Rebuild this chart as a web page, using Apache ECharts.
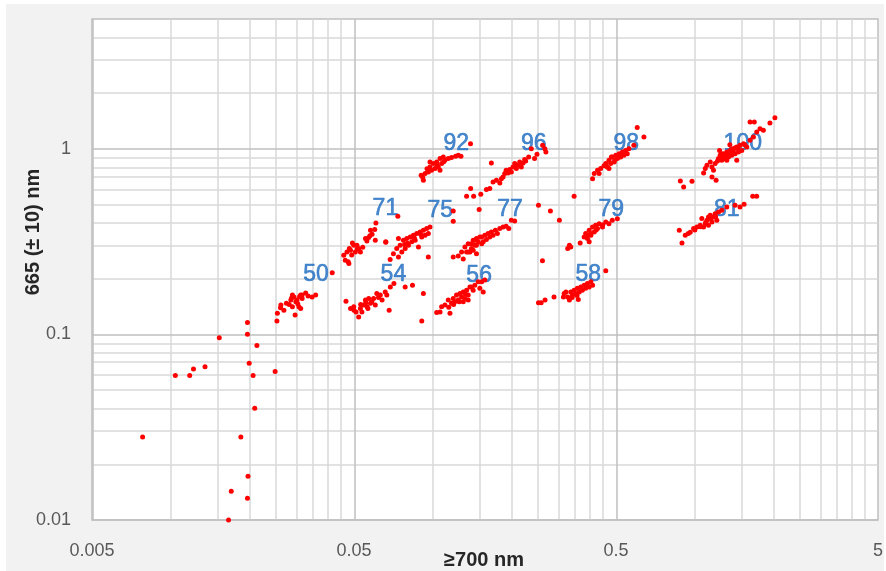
<!DOCTYPE html>
<html><head><meta charset="utf-8">
<script src="https://cdn.jsdelivr.net/npm/echarts@6/dist/echarts.min.js"></script>
<style>
html,body{margin:0;padding:0;background:#fff;}
#bg{position:absolute;left:6px;top:4px;width:878px;height:567px;background:#F2F2F2;}
#chart{position:absolute;left:0;top:0;width:886px;height:571px;}
</style></head><body>
<div id="bg"></div><div id="chart"></div>
<script>
// ---- axis ranges & ticks ----
const X_MIN = 0.005, X_MAX = 5, Y_MIN = 0.01, Y_MAX = 5;
const xTickLabels = [0.005, 0.05, 0.5, 5];
const yTickLabels = [0.01, 0.1, 1];
const xGridMajor = [0.005, 0.05, 0.5, 5];
const xGridMinor = [0.01,0.015,0.02,0.025,0.03,0.035,0.04,0.045,0.1,0.15,0.2,0.25,0.3,0.35,0.4,0.45,1,1.5,2,2.5,3,3.5,4,4.5];
const yGridMajor = [0.01, 0.1, 1];
const yGridMinor = [0.02,0.03,0.04,0.05,0.06,0.07,0.08,0.09,0.2,0.3,0.4,0.5,0.6,0.7,0.8,0.9,2,3,4,5];
const xTitle = '≥700 nm';
const yTitle = '665 (± 10) nm';

// ---- data: [≥700 nm, 665 nm] ----
const sparse = [[0.0078,0.028],[0.0104,0.060],[0.0118,0.060],[0.0122,0.065],[0.0135,0.067],[0.0153,0.096],[0.0196,0.116],[0.0196,0.100],[0.0213,0.087],[0.0199,0.070],[0.0206,0.060],[0.025,0.063],[0.0209,0.040],[0.0185,0.028],[0.0197,0.0172],[0.0170,0.0143],[0.0196,0.0131],[0.0166,0.0100]];
const g50 = [[0.0254,0.118],[0.0255,0.130],[0.0263,0.144],[0.0270,0.135],[0.0276,0.147],[0.0287,0.153],[0.0291,0.141],[0.0291,0.163],[0.0295,0.159],[0.0300,0.150],[0.0298,0.127],[0.0303,0.153],[0.0308,0.141],[0.0313,0.138],[0.0313,0.163],[0.0317,0.156],[0.0317,0.163],[0.0327,0.167],[0.0334,0.161],[0.0346,0.159],[0.0357,0.163],[0.0413,0.215],[0.0283,0.145],[0.0305,0.146],[0.0289,0.157],[0.0310,0.160],[0.0262,0.139]];
const g71 = [[0.0457,0.267],[0.0470,0.278],[0.0475,0.246],[0.0485,0.284],[0.0499,0.302],[0.0506,0.278],[0.0521,0.290],[0.0529,0.278],[0.0493,0.311],[0.0553,0.328],[0.0569,0.333],[0.0586,0.346],[0.0600,0.367],[0.0603,0.321],[0.0606,0.398],[0.0661,0.314],[0.0463,0.251],[0.0478,0.241],[0.0513,0.302],[0.0578,0.364],[0.0735,0.433],[0.0490,0.268],[0.0515,0.288],[0.0540,0.295],[0.0560,0.318],[0.0575,0.340],[0.0480,0.290]];
const g54 = [[0.0466,0.151],[0.0485,0.138],[0.0499,0.141],[0.0509,0.132],[0.0521,0.124],[0.0529,0.138],[0.0544,0.144],[0.0553,0.153],[0.0561,0.141],[0.0569,0.156],[0.0578,0.147],[0.0594,0.156],[0.0603,0.144],[0.0611,0.166],[0.0630,0.163],[0.0640,0.153],[0.0658,0.169],[0.0667,0.163],[0.0681,0.135],[0.0688,0.180],[0.0710,0.188],[0.0784,0.180],[0.0836,0.184],[0.0536,0.132],[0.0565,0.138],[0.0907,0.118],[0.0920,0.166],[0.0530,0.145],[0.0555,0.148],[0.0585,0.150],[0.0620,0.158],[0.0500,0.135]];
const g75 = [[0.0687,0.253],[0.0707,0.272],[0.0728,0.290],[0.0750,0.302],[0.0772,0.321],[0.0761,0.278],[0.0795,0.328],[0.0807,0.302],[0.0819,0.335],[0.0831,0.315],[0.0843,0.342],[0.0856,0.321],[0.0868,0.349],[0.0881,0.296],[0.0894,0.356],[0.0907,0.335],[0.0920,0.364],[0.0934,0.342],[0.0947,0.372],[0.0961,0.349],[0.0975,0.379],[0.0961,0.261],[0.0784,0.290],[0.0739,0.261],[0.0661,0.315],[0.0739,0.328],[0.1196,0.462],[0.1196,0.407],[0.0800,0.310],[0.0850,0.330],[0.0900,0.345],[0.0780,0.305]];
const g92 = [[0.0902,0.719],[0.0920,0.676],[0.0934,0.735],[0.0961,0.749],[0.0975,0.798],[0.0989,0.765],[0.1004,0.832],[0.1019,0.782],[0.1034,0.848],[0.1049,0.798],[0.1065,0.885],[0.1080,0.832],[0.1096,0.903],[0.1112,0.866],[0.1145,0.885],[0.1178,0.896],[0.1221,0.910],[0.1250,0.922],[0.1280,0.910],[0.1392,1.065],[0.0975,0.848],[0.1065,0.765],[0.0950,0.780],[0.1040,0.815],[0.1100,0.850],[0.0915,0.700]];
const g56 = [[0.1034,0.131],[0.1065,0.132],[0.1080,0.141],[0.1112,0.144],[0.1145,0.153],[0.1162,0.130],[0.1178,0.147],[0.1196,0.156],[0.1213,0.150],[0.1231,0.163],[0.1250,0.153],[0.1269,0.166],[0.1287,0.159],[0.1306,0.169],[0.1325,0.156],[0.1345,0.173],[0.1364,0.163],[0.1385,0.180],[0.1425,0.173],[0.1446,0.184],[0.1489,0.192],[0.1404,0.180],[0.1536,0.192],[0.1579,0.196],[0.1557,0.169],[0.1511,0.177],[0.1306,0.150],[0.1364,0.153],[0.1200,0.145],[0.1260,0.150],[0.1150,0.140],[0.1330,0.165]];
const g77 = [[0.1196,0.261],[0.1250,0.264],[0.1287,0.278],[0.1325,0.296],[0.1345,0.278],[0.1364,0.308],[0.1404,0.290],[0.1425,0.321],[0.1446,0.302],[0.1467,0.328],[0.1489,0.315],[0.1511,0.335],[0.1536,0.308],[0.1579,0.342],[0.1306,0.255],[0.1364,0.278],[0.1404,0.308],[0.1425,0.284],[0.1446,0.321],[0.1467,0.302],[0.1536,0.335],[0.1557,0.315],[0.1601,0.324],[0.1625,0.349],[0.1649,0.335],[0.1672,0.356],[0.1697,0.342],[0.1732,0.364],[0.1763,0.349],[0.1801,0.372],[0.1853,0.379],[0.1904,0.382],[0.1948,0.372],[0.1993,0.412],[0.2053,0.408],[0.1385,0.278],[0.1467,0.272]];
const g96 = [[0.1345,0.555],[0.1431,0.555],[0.1394,0.610],[0.1502,0.470],[0.1524,0.568],[0.1601,0.603],[0.1672,0.838],[0.1649,0.610],[0.1697,0.662],[0.1748,0.676],[0.1801,0.654],[0.1826,0.690],[0.1853,0.705],[0.1881,0.735],[0.1904,0.765],[0.1936,0.740],[0.1965,0.772],[0.1993,0.749],[0.2022,0.798],[0.2053,0.832],[0.2083,0.782],[0.2113,0.815],[0.2145,0.848],[0.2176,0.798],[0.2209,0.838],[0.2241,0.874],[0.2321,0.903],[0.2375,1.00],[0.2444,0.885],[0.2497,0.933],[0.2624,1.043],[0.2676,1.00],[0.2700,0.959],[0.1950,0.750],[0.2050,0.800],[0.2150,0.820],[0.2260,0.860]];
const stray = [[0.253,0.496],[0.281,0.462],[0.304,0.412],[0.262,0.249],[0.253,0.148],[0.259,0.148],[0.268,0.153],[0.290,0.159],[0.315,0.159],[0.346,0.555]];
const g58 = [[0.317,0.166],[0.327,0.159],[0.332,0.153],[0.336,0.169],[0.341,0.163],[0.346,0.173],[0.351,0.166],[0.356,0.177],[0.362,0.169],[0.359,0.154],[0.367,0.180],[0.372,0.173],[0.378,0.184],[0.383,0.177],[0.389,0.188],[0.395,0.180],[0.401,0.192],[0.407,0.184],[0.457,0.220],[0.322,0.169],[0.340,0.158],[0.365,0.175],[0.385,0.182],[0.355,0.162]];
const g79 = [[0.327,0.290],[0.332,0.302],[0.336,0.296],[0.365,0.311],[0.378,0.335],[0.383,0.349],[0.389,0.328],[0.395,0.364],[0.401,0.342],[0.407,0.379],[0.413,0.356],[0.418,0.387],[0.425,0.372],[0.431,0.395],[0.444,0.379],[0.457,0.403],[0.470,0.395],[0.484,0.412],[0.506,0.420],[0.395,0.315],[0.389,0.342],[0.400,0.350],[0.420,0.365],[0.445,0.390]];
const g98 = [[0.407,0.690],[0.413,0.735],[0.425,0.765],[0.431,0.735],[0.437,0.782],[0.457,0.832],[0.463,0.798],[0.470,0.866],[0.477,0.832],[0.484,0.903],[0.492,0.848],[0.499,0.922],[0.506,0.885],[0.514,0.941],[0.521,0.903],[0.529,0.960],[0.536,0.922],[0.544,0.980],[0.552,0.941],[0.560,1.00],[0.470,0.782],[0.480,0.903],[0.6025,1.30],[0.639,1.157],[0.585,1.043],[0.495,0.870],[0.520,0.920],[0.540,0.950],[0.510,0.900],[0.450,0.810]];
const g81 = [[0.893,0.311],[0.872,0.364],[0.919,0.342],[0.944,0.349],[0.989,0.372],[1.018,0.379],[1.048,0.387],[1.063,0.421],[1.080,0.379],[1.096,0.395],[1.112,0.412],[1.127,0.387],[1.145,0.438],[1.162,0.403],[1.178,0.429],[1.195,0.447],[1.213,0.412],[1.231,0.457],[1.267,0.466],[1.324,0.486],[1.424,0.496],[1.487,0.486],[1.541,0.502],[1.663,0.555],[1.722,0.555],[1.127,0.429],[1.00,0.365],[1.05,0.380],[1.10,0.400],[1.15,0.420],[1.20,0.430],[0.96,0.355]];
const g100 = [[0.880,0.670],[0.906,0.622],[0.975,0.668],[1.080,0.740],[1.096,0.782],[1.112,0.814],[1.145,0.848],[1.162,0.798],[1.178,0.765],[1.195,0.832],[1.205,0.676],[1.162,0.705],[1.231,0.885],[1.249,0.922],[1.267,0.866],[1.286,0.941],[1.305,0.885],[1.324,0.960],[1.344,0.903],[1.363,0.980],[1.383,0.922],[1.404,1.00],[1.424,0.941],[1.445,1.022],[1.467,0.960],[1.487,1.043],[1.510,0.980],[1.533,1.065],[1.578,1.022],[1.624,1.110],[1.673,1.157],[1.722,1.230],[1.773,1.283],[1.826,1.256],[1.624,1.392],[1.686,1.392],[1.934,1.375],[2.021,1.470],[1.324,0.866],[1.445,0.866],[1.242,0.980],[1.30,0.92],[1.35,0.95],[1.40,0.97],[1.28,0.90],[1.38,0.99],[1.42,1.01],[1.33,0.93],[1.26,0.94],[1.46,1.00],[1.36,1.05],[1.22,0.86],[1.55,1.05]];

// ---- cluster labels ----
const clusterLabels = ['50','54','71','75','92','56','77','96','58','79','98','81','100'];
const clusterLabelX = [0.0358,0.0707,0.0659,0.1068,0.1228,0.1502,0.197,0.2426,0.392,0.480,0.547,1.324,1.524];
const clusterLabelY = [0.211,0.211,0.478,0.466,1.069,0.208,0.472,1.069,0.211,0.472,1.069,0.472,1.069];

// ---- build ----
const L = Math.log10;
const groups = {sparse, g50, g71, g54, g75, g92, g56, g77, g96, stray, g58, g79, g98, g81, g100};
const FONT = '"Liberation Sans", Arial, sans-serif';
function fmt(list){ return v => { const t = list.find(t => Math.abs(L(t) - v) < 1e-6); return t === undefined ? '' : String(t); }; }

const gridLines = [];
xGridMinor.forEach(v => gridLines.push({xAxis: L(v), lineStyle:{color:'#D9D9D9', width:1.5, type:'solid'}}));
yGridMinor.forEach(v => gridLines.push({yAxis: L(v), lineStyle:{color:'#D9D9D9', width:1.5, type:'solid'}}));
xGridMajor.forEach(v => gridLines.push({xAxis: L(v), lineStyle:{color:'#BFBFBF', width:1.5, type:'solid'}}));
yGridMajor.forEach(v => gridLines.push({yAxis: L(v), lineStyle:{color:'#BFBFBF', width:1.5, type:'solid'}}));

const series = [{
  type: 'line', data: [], z: 1, silent: true,
  markLine: { z: 1, silent: true, symbol: ['none','none'], label: {show:false}, animation: false,
    emphasis: {disabled: true}, data: gridLines }
}];
series.push({
  type: 'scatter', z: 2, symbolSize: 1, silent: true,
  itemStyle: {color: 'rgba(0,0,0,0)'},
  label: {show: true, position: 'inside', formatter: '{b}', color: '#1D6CC0', fontSize: 23, fontFamily: FONT,
    textBorderColor: '#1D6CC0', textBorderWidth: 0.6},
  data: clusterLabels.map((n, i) => ({name: n, value: [L(clusterLabelX[i]), L(clusterLabelY[i])]}))
});
Object.keys(groups).forEach(k => series.push({
  name: k, type: 'scatter', z: 5, symbol: 'circle', symbolSize: 5,
  itemStyle: {color: '#FF0000', opacity: 1},
  data: groups[k].map(p => [L(p[0]), L(p[1])])
}));

const chart = echarts.init(document.getElementById('chart'), null, {renderer: 'canvas'});
chart.setOption({
  animation: false,
  backgroundColor: 'transparent',
  grid: {left: 92, right: 4, top: 19, bottom: 51, show: true, backgroundColor: '#FFFFFF', borderColor: '#BFBFBF', borderWidth: 1.5},
  xAxis: {
    type: 'value', min: L(X_MIN), max: L(X_MAX),
    axisLine: {show: false}, axisTick: {show: false}, splitLine: {show: false},
    axisLabel: {customValues: xTickLabels.map(L), formatter: fmt(xTickLabels), color: '#595959', fontSize: 18, fontFamily: FONT, margin: 22, showMinLabel: true, showMaxLabel: true, hideOverlap: false}
  },
  yAxis: {
    type: 'value', min: L(Y_MIN), max: L(Y_MAX),
    axisLine: {show: false}, axisTick: {show: false}, splitLine: {show: false},
    axisLabel: {customValues: yTickLabels.map(L), formatter: fmt(yTickLabels), color: '#595959', fontSize: 18, fontFamily: FONT, margin: 21, showMinLabel: true, hideOverlap: false}
  },
  graphic: [
    {type: 'text', x: 484, y: 560, z: 10, style: {text: xTitle, font: 'bold 20px ' + FONT, fill: '#262626', align: 'center', verticalAlign: 'middle', textAlign: 'center', textVerticalAlign: 'middle'}},
    {type: 'text', x: 33, y: 232, rotation: Math.PI / 2, z: 10, style: {text: yTitle, font: 'bold 20px ' + FONT, fill: '#262626', align: 'center', verticalAlign: 'middle', textAlign: 'center', textVerticalAlign: 'middle'}}
  ],
  series: series
});
</script>
</body></html>
